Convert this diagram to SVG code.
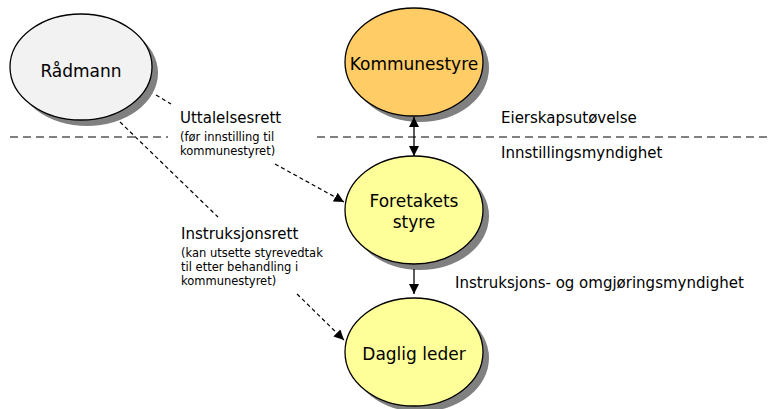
<svg xmlns="http://www.w3.org/2000/svg" width="772" height="409" viewBox="0 0 772 409">
<style>
.node{stroke:#000;stroke-width:1.3}
.shadow{fill:#808080}
.nt{font-family:"DejaVu Sans",sans-serif;font-size:17px;fill:#000;text-anchor:middle}
.lb{font-family:"DejaVu Sans",sans-serif;font-size:15px;fill:#000}
.sm{font-family:"DejaVu Sans",sans-serif;font-size:11.5px;fill:#000}
.sep{stroke:#808080;stroke-width:2;stroke-dasharray:8 5;fill:none}
.solid{stroke:#000;stroke-width:1.3;fill:none}
.dash{stroke:#000;stroke-width:1.2;stroke-dasharray:4 3;fill:none}
</style>
<defs>
<marker id="ah" viewBox="0 0 10 10" refX="10" refY="5" markerWidth="10" markerHeight="10" markerUnits="userSpaceOnUse" orient="auto-start-reverse">
<path d="M0,0 L10,5 L0,10 z" fill="#000"/>
</marker>
</defs>
<rect width="772" height="409" fill="#fff"/>
<g id="separator">
<line class="sep" x1="10" y1="137" x2="168" y2="137"/>
<line class="sep" x1="317" y1="137" x2="772" y2="137"/>
</g>
<g id="radmann">
<ellipse class="shadow" cx="87" cy="73" rx="71" ry="53"/>
<ellipse class="node" cx="81" cy="67" rx="71" ry="53" fill="#F2F2F2"/>
<text class="nt" x="81" y="77">Rådmann</text>
</g>
<g id="kommunestyre">
<ellipse class="shadow" cx="420" cy="68" rx="69" ry="54"/>
<ellipse class="node" cx="414" cy="62" rx="69" ry="54" fill="#FFCC66"/>
<text class="nt" x="414" y="70">Kommunestyre</text>
</g>
<g id="foretakets-styre">
<ellipse class="shadow" cx="420" cy="216" rx="69" ry="54"/>
<ellipse class="node" cx="414" cy="210" rx="69" ry="54" fill="#FFFF99"/>
<text class="nt" x="414" y="207">Foretakets</text>
<text class="nt" x="414" y="228">styre</text>
</g>
<g id="daglig-leder">
<ellipse class="shadow" cx="420" cy="358" rx="69" ry="54"/>
<ellipse class="node" cx="414" cy="352" rx="69" ry="54" fill="#FFFF99"/>
<text class="nt" x="414" y="360">Daglig leder</text>
</g>
<g id="connectors">
<line class="solid" x1="414" y1="117" x2="414" y2="156" marker-start="url(#ah)" marker-end="url(#ah)"/>
<line class="solid" x1="414" y1="269" x2="414" y2="294" marker-end="url(#ah)"/>
<line class="dash" x1="156" y1="95" x2="171" y2="104"/>
<line class="dash" x1="275" y1="164" x2="344" y2="202" marker-end="url(#ah)"/>
<line class="dash" x1="120" y1="122" x2="218" y2="217"/>
<line class="dash" x1="297" y1="294" x2="344" y2="340" marker-end="url(#ah)"/>
</g>
<g id="labels">
<text class="lb" x="180" y="123">Uttalelsesrett</text>
<text class="sm" x="180" y="141">(før innstilling til</text>
<text class="sm" x="180" y="155">kommunestyret)</text>
<text class="lb" x="181" y="239">Instruksjonsrett</text>
<text class="sm" x="181" y="257">(kan utsette styrevedtak</text>
<text class="sm" x="181" y="271">til etter behandling i</text>
<text class="sm" x="181" y="285">kommunestyret)</text>
<text class="lb" x="501" y="123">Eierskapsutøvelse</text>
<text class="lb" x="501" y="158">Innstillingsmyndighet</text>
<text class="lb" x="455" y="288">Instruksjons- og omgjøringsmyndighet</text>
</g>
</svg>
